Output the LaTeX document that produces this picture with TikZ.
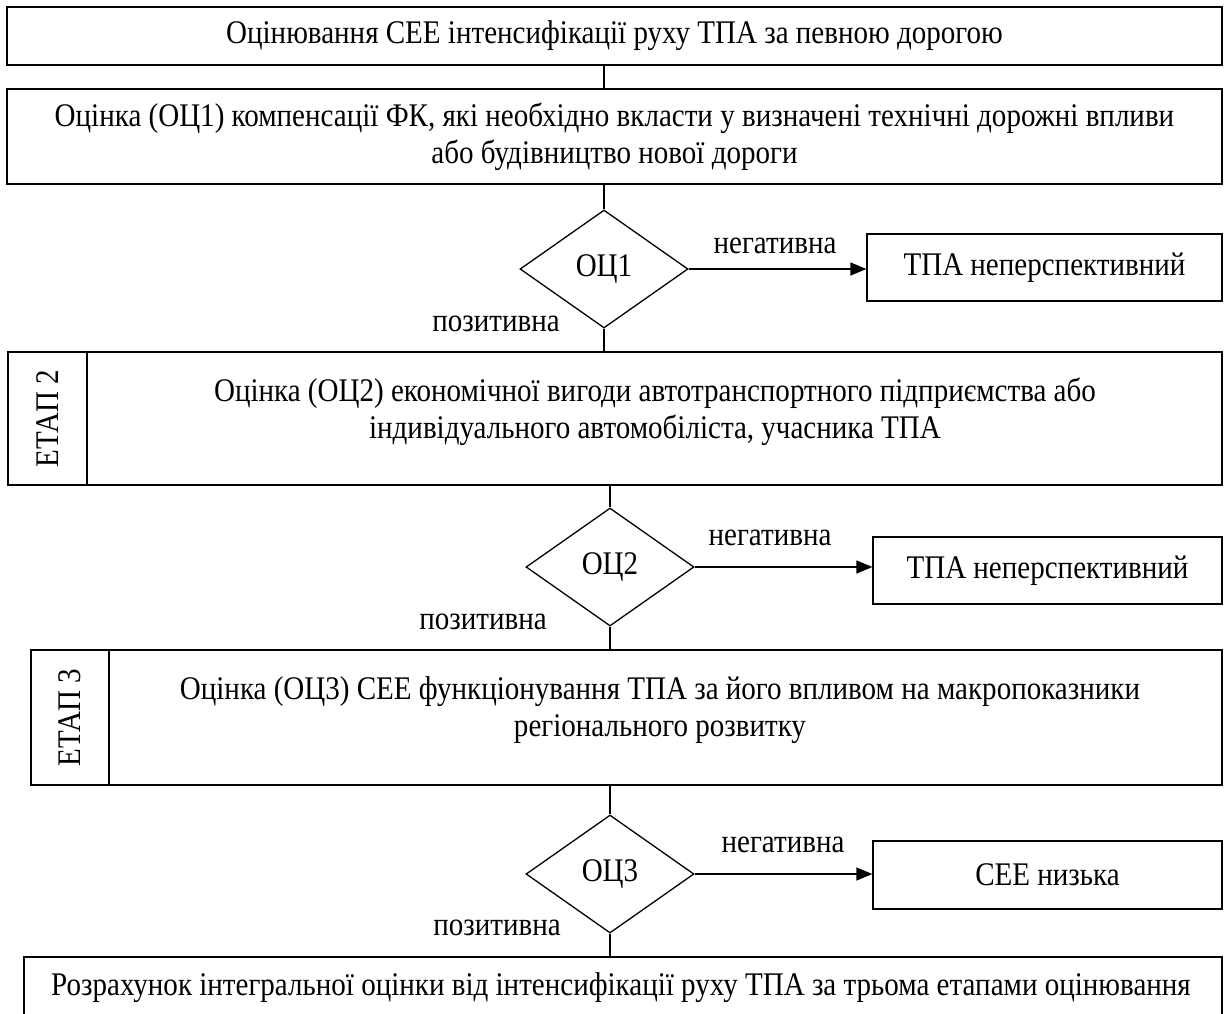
\documentclass[tikz,border=0pt]{standalone}
\usepackage{fontspec}
\setmainfont[FakeStretch=0.88]{Liberation Serif}
\usetikzlibrary{shapes.geometric,arrows.meta}
\begin{document}
\begin{tikzpicture}[x=1pt,y=-1pt,
  every node/.style={font=\fontsize{33}{37}\selectfont},
  box/.style={draw, line width=1.3pt, rectangle, inner sep=0pt, align=center},
  dec/.style={draw, line width=1.3pt, diamond, inner sep=0pt, minimum width=168pt, minimum height=118pt},
  txt/.style={inner sep=0pt, align=center},
  conn/.style={line width=1.3pt},
  arr/.style={line width=1.3pt, -{Triangle[length=16pt,width=13pt]}}]
\useasboundingbox (0,0) rectangle (1225,1013);
% top
\node[box, minimum width=1215pt, minimum height=58pt] (top) at (614.5,36) {Оцінювання СЕЕ інтенсифікації руху ТПА за певною дорогою};
\node[box, minimum width=1215pt, minimum height=95pt] (b1) at (614.5,136.5) {Оцінка (ОЦ1) компенсації ФК, які необхідно вкласти у визначені технічні дорожні впливи\\або будівництво нової дороги};
\node[dec] (d1) at (604,269) {ОЦ1};
\node[box, minimum width=355pt, minimum height=67pt] (n1) at (1044.5,267.5) {ТПА неперспективний};
\node[txt] (neg1) at (775,246) {негативна};
\node[txt] (pos1) at (496,324) {позитивна};
% etap 2
\node[box, minimum width=79pt, minimum height=133pt] (e2l) at (47.5,418.5) {};
\node[txt, rotate=90] (e2t) at (e2l.center) {ЕТАП 2};
\node[box, minimum width=1135pt, minimum height=133pt] (e2) at (654.5,418.5) {};
\node[txt] (e2txt) at (655,411.5) {Оцінка (ОЦ2) економічної вигоди автотранспортного підприємства або\\індивідуального автомобіліста, учасника ТПА};
\node[dec] (d2) at (610,567) {ОЦ2};
\node[box, minimum width=349pt, minimum height=67pt] (n2) at (1047.5,570.5) {ТПА неперспективний};
\node[txt] (neg2) at (770,538) {негативна};
\node[txt] (pos2) at (483,622) {позитивна};
% etap 3
\node[box, minimum width=78pt, minimum height=135pt] (e3l) at (70,717.5) {};
\node[txt, rotate=90] (e3t) at (e3l.center) {ЕТАП 3};
\node[box, minimum width=1113pt, minimum height=135pt] (e3) at (665.5,717.5) {};
\node[txt] (e3txt) at (660,710.5) {Оцінка (ОЦ3) СЕЕ функціонування ТПА за його впливом на макропоказники\\регіонального розвитку};
\node[dec] (d3) at (610,874) {ОЦ3};
\node[box, minimum width=349pt, minimum height=68pt] (n3) at (1047.5,875) {СЕЕ низька};
\node[txt] (neg3) at (783,845) {негативна};
\node[txt] (pos3) at (497,928) {позитивна};
% final
\node[box, minimum width=1198pt, minimum height=68pt] (fin) at (623,991) {};
\node[txt] (fintxt) at (621,988) {Розрахунок інтегральної оцінки від інтенсифікації руху ТПА за трьома етапами оцінювання};
% connectors
\draw[conn] (top.south -| d1.north) -- (b1.north -| d1.north);
\draw[conn] (b1.south -| d1.north) -- (d1.north);
\draw[conn] (d1.south) -- (e2.north -| d1.south);
\draw[arr] (d1.east) -- (d1.east -| n1.west);
\draw[conn] (e2.south -| d2.north) -- (d2.north);
\draw[conn] (d2.south) -- (e3.north -| d2.south);
\draw[arr] (d2.east) -- (d2.east -| n2.west);
\draw[conn] (e3.south -| d3.north) -- (d3.north);
\draw[conn] (d3.south) -- (fin.north -| d3.south);
\draw[arr] (d3.east) -- (d3.east -| n3.west);
\end{tikzpicture}
\end{document}
